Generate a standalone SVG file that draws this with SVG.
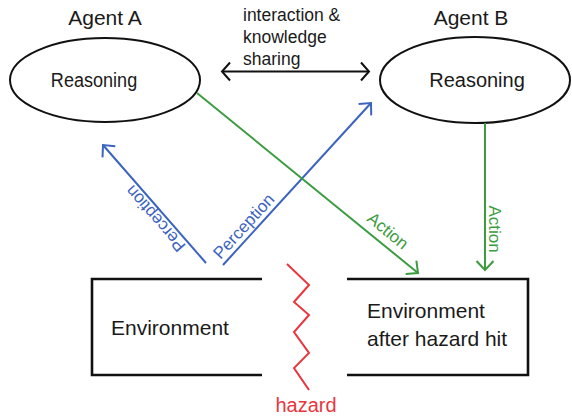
<svg xmlns="http://www.w3.org/2000/svg" width="572" height="419" viewBox="0 0 572 419">
  <style>
    text { font-family: "Liberation Sans", Arial, sans-serif; }
    .title { font-size: 21px; fill: #1a1a1a; text-anchor: middle; }
    .node { fill: #ffffff; stroke: #111111; stroke-width: 2; }
    .box { fill: none; stroke: #111111; stroke-width: 2.6; }
    .note { font-size: 17.5px; fill: #1a1a1a; }
    .blue { stroke: #3c63be; stroke-width: 2; fill: none; }
    .green { stroke: #3c9c40; stroke-width: 2; fill: none; }
    .black { stroke: #111111; stroke-width: 2; fill: none; }
    .lbl-blue { font-size: 17px; fill: #3c63be; text-anchor: middle; }
    .lbl-green { font-size: 17px; fill: #3c9c40; text-anchor: middle; }
    .hazard { stroke: #e8363f; stroke-width: 2; fill: none; stroke-linejoin: miter; }
  </style>
  <defs>
    <marker id="head-blue" markerUnits="userSpaceOnUse" markerWidth="24" markerHeight="24" viewBox="-12 -12 24 24" refX="0" refY="0" orient="auto">
      <path d="M-9,-8.5 L0,0 L-9,8.5" fill="none" stroke="#3c63be" stroke-width="2"/>
    </marker>
    <marker id="head-green" markerUnits="userSpaceOnUse" markerWidth="24" markerHeight="24" viewBox="-12 -12 24 24" refX="0" refY="0" orient="auto">
      <path d="M-9,-8.5 L0,0 L-9,8.5" fill="none" stroke="#3c9c40" stroke-width="2"/>
    </marker>
    <marker id="head-black" markerUnits="userSpaceOnUse" markerWidth="24" markerHeight="24" viewBox="-12 -12 24 24" refX="0" refY="0" orient="auto-start-reverse">
      <path d="M-8,-9 L0,0 L-8,9" fill="none" stroke="#111111" stroke-width="2"/>
    </marker>
  </defs>

  <rect width="572" height="419" fill="#ffffff"/>

  <!-- agents -->
  <g id="agent-a">
    <text class="title" x="105" y="25">Agent A</text>
    <ellipse class="node" cx="105" cy="80" rx="95" ry="42"/>
    <text class="title" transform="translate(94,87) scale(0.86,1)">Reasoning</text>
  </g>

  <g id="agent-b">
    <text class="title" x="471" y="25">Agent B</text>
    <ellipse class="node" cx="475" cy="80" rx="95" ry="43"/>
    <text class="title" x="477" y="87" style="font-size:20px">Reasoning</text>
  </g>

  <!-- environments -->
  <g id="environment">
    <path class="box" d="M262,279 H92 V375 H262"/>
    <text class="title" x="111" y="335" style="text-anchor:start">Environment</text>
  </g>

  <g id="environment-after">
    <path class="box" d="M347,279 H528 V375 H347"/>
    <text class="title" x="367" y="318" style="text-anchor:start">Environment</text>
    <text class="title" x="367" y="346" style="text-anchor:start">after hazard hit</text>
  </g>

  <!-- hazard strike -->
  <g id="hazard">
    <polyline class="hazard" points="287,264 309,285 294,302 309,315 294,332 309,353 294,368 309,390"/>
    <text x="306" y="412" style="font-size:20px; fill:#e8363f; text-anchor:middle">hazard</text>
  </g>

  <!-- connectors -->
  <g id="connectors">
    <!-- interaction between agents -->
    <line class="black" x1="222" y1="71.5" x2="369" y2="71.5" marker-start="url(#head-black)" marker-end="url(#head-black)"/>
    <text class="note" x="243" y="20.5">interaction &amp;</text>
    <text class="note" x="243" y="42.5">knowledge</text>
    <text class="note" x="243" y="65">sharing</text>

    <!-- perception -->
    <line class="blue" x1="206" y1="263" x2="103" y2="145" marker-end="url(#head-blue)"/>
    <text class="lbl-blue" transform="translate(159.8,214.8) rotate(-131.1)">Perception</text>
    <line class="blue" x1="223" y1="265" x2="371" y2="103" marker-end="url(#head-blue)"/>
    <text class="lbl-blue" transform="translate(248,230) rotate(-47.6)">Perception</text>

    <!-- action -->
    <line class="green" x1="197" y1="93" x2="418" y2="273" marker-end="url(#head-green)"/>
    <text class="lbl-green" transform="translate(384.2,235.3) rotate(39.2)">Action</text>
    <line class="green" x1="485" y1="123" x2="485" y2="270" marker-end="url(#head-green)"/>
    <text class="lbl-green" transform="translate(489,229) rotate(90)">Action</text>
  </g>
</svg>
